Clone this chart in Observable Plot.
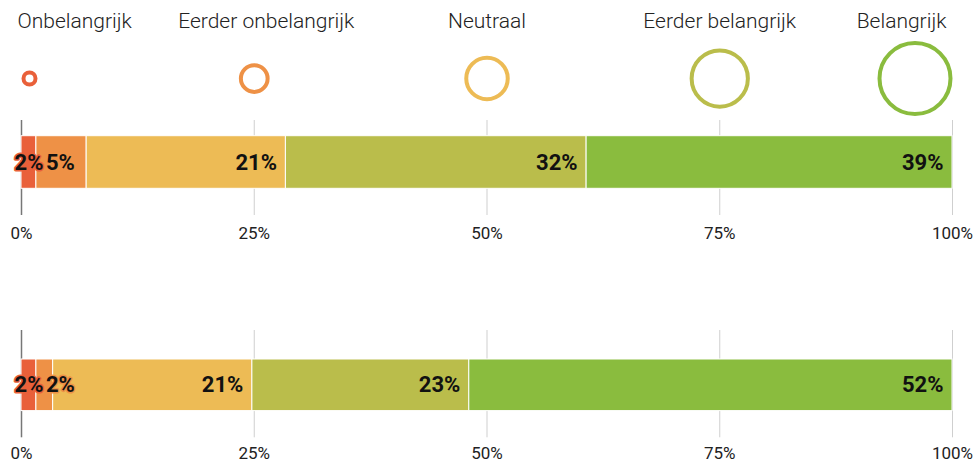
<!DOCTYPE html>
<html>
<head>
<meta charset="utf-8">
<script src="https://cdn.jsdelivr.net/npm/d3@7"></script>
<script src="https://cdn.jsdelivr.net/npm/@observablehq/plot@0.6"></script>
<style>
  html, body { margin: 0; padding: 0; background: #fff; font-family: Roboto, sans-serif; }
  #chart svg { display: block; }
</style>
</head>
<body>
<div id="chart"></div>
<script>
// ---- data ----
const categories = ["Onbelangrijk", "Eerder onbelangrijk", "Neutraal", "Eerder belangrijk", "Belangrijk"];
const colors = ["#e9603a", "#ee9146", "#edbb55", "#babd4b", "#8abc3e"];
const circleSizes = [1, 2, 3, 4, 5];
const circlePositions = [0, 25, 50, 75, 100];
const row1Values = [1.6, 5.4, 21.4, 32.3, 39.3];
const row2Values = [1.6, 1.8, 21.4, 23.3, 51.9];
const tickValues = [0, 25, 50, 75, 100];
const tickLabels = ["0%", "25%", "50%", "75%", "100%"];

// ---- shared config ----
const W = 976;
const ML = 21, MR = 24;
const colorScale = {domain: categories, range: colors};
const baseStyle = {fontFamily: "Roboto, sans-serif", fontSize: "17px", color: "#222", background: "white", overflow: "visible"};

// ---- legend ----
const legendItems = categories.map((c, i) => ({cat: c, size: circleSizes[i], pos: circlePositions[i], i}));
const legendText = {text: "cat", frameAnchor: "top", dy: 13, fontSize: 21, fontWeight: 300, fill: "#222"};
const legendDot = {x: "pos", r: "size", stroke: "cat", strokeWidth: 4, fill: "none", frameAnchor: "top", dy: 78};

const legend = Plot.plot({
  width: W, height: 110,
  marginLeft: ML, marginRight: MR, marginTop: 0, marginBottom: 0,
  x: {domain: [0, 100], axis: null},
  r: {type: "linear", domain: [1, 5], range: [6, 35.5]},
  color: colorScale,
  style: baseStyle,
  marks: [
    Plot.text(legendItems.filter(d => d.i === 0), {...legendText, x: "pos", textAnchor: "start", dx: -4}),
    Plot.text(legendItems.filter(d => d.i === 1), {...legendText, x: "pos", textAnchor: "middle", dx: 12}),
    Plot.text(legendItems.filter(d => d.i === 2 || d.i === 3), {...legendText, x: "pos", textAnchor: "middle"}),
    Plot.text(legendItems.filter(d => d.i === 4), {...legendText, x: "pos", textAnchor: "end", dx: -6}),
    Plot.dot(legendItems.filter(d => d.i === 0), {...legendDot, dx: 8}),
    Plot.dot(legendItems.filter(d => d.i > 0 && d.i < 4), legendDot),
    Plot.dot(legendItems.filter(d => d.i === 4), {...legendDot, dx: -37.5})
  ]
});

// ---- bar rows ----
function makeRow(values, o) {
  let acc = 0;
  const data = values.map((v, i) => {
    const start = acc; acc += v;
    return {cat: categories[i], value: v, start, end: acc, mid: (start + acc) / 2, i, label: Math.round(v) + "%"};
  });
  const ticks = tickValues.map((t, i) => ({t, label: tickLabels[i]}));
  const dy = (o.insetTop - o.insetBottom) / 2;
  const lab = {text: "label", fontSize: 22, fontWeight: "bold", fill: "#111",
               stroke: "cat", strokeWidth: 3, paintOrder: "stroke", strokeLinejoin: "round", dy};
  return Plot.plot({
    width: W, height: o.height,
    marginLeft: ML, marginRight: MR, marginTop: o.marginTop, marginBottom: o.marginBottom,
    x: {domain: [0, 100], label: null, axis: null},
    color: colorScale,
    style: baseStyle,
    marks: [
      Plot.ruleX(ticks.filter(d => d.t !== 0), {x: "t", stroke: "#cfcfcf", strokeWidth: 1}),
      Plot.ruleX(ticks.filter(d => d.t === 0), {x: "t", stroke: "#777", strokeWidth: 1.5}),
      Plot.barX(data, Plot.stackX({x: "value", fill: "cat", stroke: "white", strokeWidth: 1,
                                    insetTop: o.insetTop, insetBottom: o.insetBottom})),
      Plot.text(ticks, {x: "t", text: "label", frameAnchor: "bottom", dy: o.tickDy, fontSize: 17, fill: "#222"}),
      Plot.text(data.filter(d => d.i === 0), {...lab, x: "mid", textAnchor: "middle"}),
      Plot.text(data.filter(d => d.i === 1), {...lab, x: "start", textAnchor: "start", dx: 9.5}),
      Plot.text(data.filter(d => d.i >= 2), {...lab, x: "end", textAnchor: "end", dx: -9})
    ]
  });
}

const row1 = makeRow(row1Values, {height: 135, marginTop: 10, marginBottom: 30, insetTop: 15.7, insetBottom: 26.7, tickDy: 23});
const row2 = makeRow(row2Values, {height: 219, marginTop: 85, marginBottom: 26.7, insetTop: 29, insetBottom: 26.7, tickDy: 21.5});

const chart = document.getElementById("chart");
chart.append(legend, row1, row2);
</script>
</body>
</html>
